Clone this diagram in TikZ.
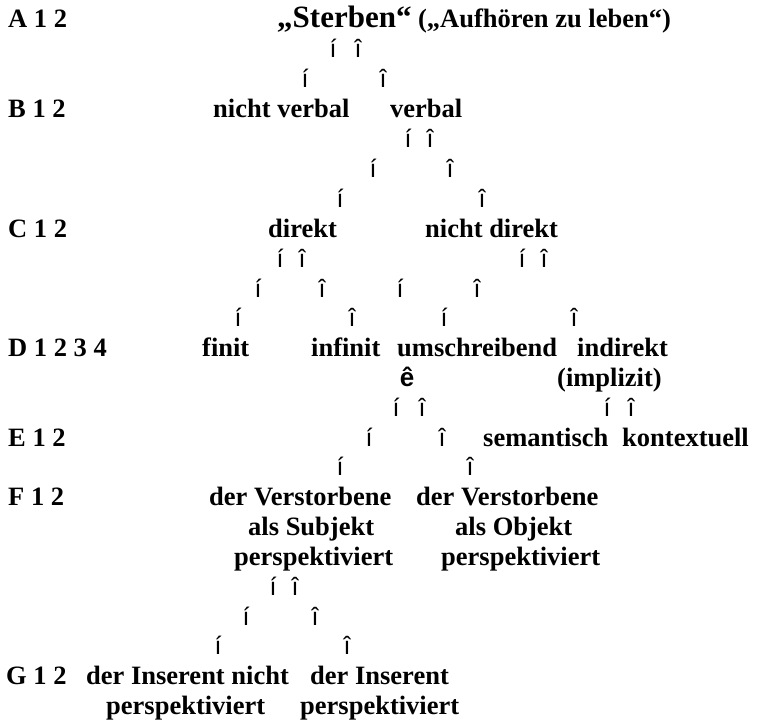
\documentclass[tikz,border=0pt]{standalone}
\usepackage{fontspec}
\setmainfont{Liberation Serif}
\newfontfamily\arrfont{Liberation Sans}
\tikzset{
  lbl/.style={anchor=base west, inner sep=0pt, font=\fontsize{26.5}{29.87}\selectfont\bfseries},
  arr/.style={anchor=base, inner sep=0pt, font=\arrfont\fontsize{25}{28}\selectfont},
  darr/.style={anchor=base, inner sep=0pt, font=\arrfont\fontsize{26}{28}\selectfont\bfseries},
}
\begin{document}
\begin{tikzpicture}[x=1pt,y=-1pt]
\useasboundingbox (0,0) rectangle (757,726);
% row A
\node[lbl] (A) at (8,27) {A 1 2};
\node[lbl] (sterben) at (277,27) {{\fontsize{31}{32}\selectfont „Sterben“} („Aufhören zu leben“)};
\node[arr] (a2l) at (333,57) {í};
\node[arr] (a2r) at (358,57) {î};
\node[arr] (a3l) at (305,87) {í};
\node[arr] (a3r) at (383,87) {î};
% row B
\node[lbl] (B) at (8,117) {B 1 2};
\node[lbl] (nverbal) at (213,117) {nicht verbal};
\node[lbl] (verbal) at (390,117) {verbal};
\node[arr] (a5l) at (408,147) {í};
\node[arr] (a5r) at (430,147) {î};
\node[arr] (a6l) at (373,177) {í};
\node[arr] (a6r) at (450,177) {î};
\node[arr] (a7l) at (340,207) {í};
\node[arr] (a7r) at (482,207) {î};
% row C
\node[lbl] (C) at (8,237) {C 1 2};
\node[lbl] (direkt) at (268,237) {direkt};
\node[lbl] (ndirekt) at (425,237) {nicht direkt};
\node[arr] (a9l) at (280,267) {í};
\node[arr] (a9r) at (302,267) {î};
\node[arr] (a9L) at (522,267) {í};
\node[arr] (a9R) at (544,267) {î};
\node[arr] (a10l) at (258,297) {í};
\node[arr] (a10r) at (322,297) {î};
\node[arr] (a10L) at (400,297) {í};
\node[arr] (a10R) at (477,297) {î};
\node[arr] (a11l) at (238,326) {í};
\node[arr] (a11r) at (352,326) {î};
\node[arr] (a11L) at (444,326) {í};
\node[arr] (a11R) at (574,326) {î};
% row D
\node[lbl] (D) at (8,356) {D 1 2 3 4};
\node[lbl] (finit) at (202,356) {finit};
\node[lbl] (infinit) at (311,356) {infinit};
\node[lbl] (umschr) at (397,356) {umschreibend};
\node[lbl] (indirekt) at (577,356) {indirekt};
\node[darr] (down) at (407,386) {ê};
\node[lbl] (implizit) at (557,386) {(implizit)};
\node[arr] (a14l) at (396,416) {í};
\node[arr] (a14r) at (422,416) {î};
\node[arr] (a14L) at (607,416) {í};
\node[arr] (a14R) at (631,416) {î};
% row E
\node[lbl] (E) at (8,446) {E 1 2};
\node[arr] (a15l) at (369,446) {í};
\node[arr] (a15r) at (442,446) {î};
\node[lbl] (semant) at (483,446) {semantisch};
\node[lbl] (kontext) at (622,446) {kontextuell};
\node[arr] (a16l) at (340,475) {í};
\node[arr] (a16r) at (470,475) {î};
% row F
\node[lbl] (F) at (8,505) {F 1 2};
\node[lbl] (versta) at (209,505) {der Verstorbene};
\node[lbl] (verstb) at (416,505) {der Verstorbene};
\node[lbl] (subj) at (248,535) {als Subjekt};
\node[lbl] (obj) at (455,535) {als Objekt};
\node[lbl] (perspa) at (234,565) {perspektiviert};
\node[lbl] (perspb) at (441,565) {perspektiviert};
\node[arr] (a20l) at (273,595) {í};
\node[arr] (a20r) at (295,595) {î};
\node[arr] (a21l) at (246,625) {í};
\node[arr] (a21r) at (315,625) {î};
\node[arr] (a22l) at (218,654) {í};
\node[arr] (a22r) at (347,654) {î};
% row G
\node[lbl] (G) at (6,684) {G 1 2};
\node[lbl] (insa) at (86,684) {der Inserent nicht};
\node[lbl] (insb) at (310,684) {der Inserent};
\node[lbl] (perspc) at (106,714) {perspektiviert};
\node[lbl] (perspd) at (300,714) {perspektiviert};
\end{tikzpicture}
\end{document}
